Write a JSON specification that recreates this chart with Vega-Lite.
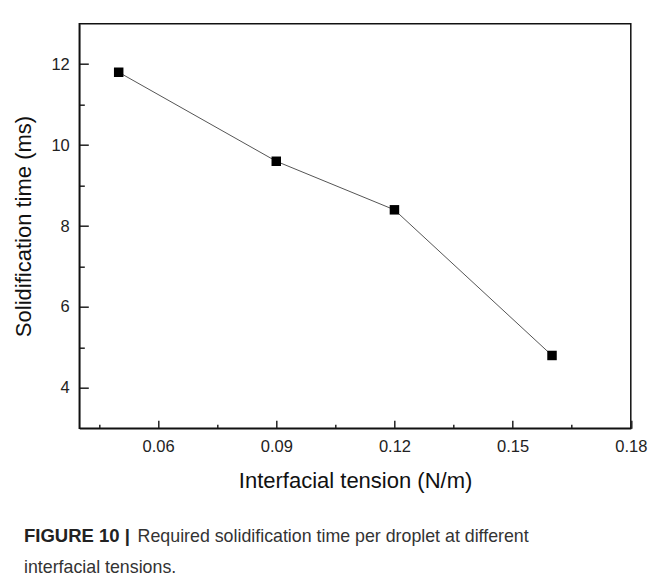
{
  "$schema": "https://vega.github.io/schema/vega-lite/v6.json",
  "width": 551.5,
  "height": 404.6,
  "autosize": {"type": "none"},
  "padding": {"left": 79.3, "top": 23.7, "right": 20.2, "bottom": 152.7},
  "background": "white",
  "config": {
    "view": {"stroke": "#111", "strokeWidth": 1.5},
    "font": "Liberation Sans"
  },
  "title": {
    "text": "FIGURE 10 |",
    "subtitle": ["\u200b\u00a0\u00a0\u00a0\u00a0\u00a0\u00a0\u00a0\u00a0\u00a0\u00a0\u00a0\u00a0\u00a0\u00a0\u00a0\u00a0\u00a0\u00a0\u00a0\u00a0\u00a0\u00a0\u00a0Required solidification time per droplet at different", "interfacial tensions."],
    "orient": "bottom",
    "anchor": "start",
    "frame": "group",
    "dx": -55.3,
    "offset": 36,
    "font": "Liberation Sans",
    "fontSize": 18.5,
    "fontWeight": "bold",
    "color": "#222",
    "subtitleFont": "Liberation Sans",
    "subtitleFontSize": 17.8,
    "subtitleFontWeight": "normal",
    "subtitleColor": "#333",
    "subtitlePadding": -18.2,
    "subtitleLineHeight": 31
  },
  "data": {
    "values": [
      {"tension": 0.05, "time": 11.8},
      {"tension": 0.09, "time": 9.6},
      {"tension": 0.12, "time": 8.4},
      {"tension": 0.16, "time": 4.8}
    ]
  },
  "layer": [
    {
      "mark": {"type": "line", "color": "#555", "strokeWidth": 1},
      "encoding": {
        "x": {
          "field": "tension",
          "type": "quantitative",
          "scale": {"domain": [0.04, 0.18], "nice": false, "zero": false},
          "axis": {
            "title": "Interfacial tension (N/m)",
            "values": [0.045, 0.06, 0.075, 0.09, 0.105, 0.12, 0.135, 0.15, 0.165, 0.18],
            "labelExpr": "round(datum.value*200)%2==1 ? '' : format(datum.value,'.2f')",
            "tickSize": {"condition": {"test": "round(datum.value*200)%2==1", "value": -4}, "value": -8},
            "tickColor": "#222",
            "tickWidth": 1.5,
            "domainColor": "#111",
            "domainWidth": 1.5,
            "grid": false,
            "labelFlush": false,
            "labelOverlap": false,
            "labelFontSize": 16.5,
            "labelColor": "#222",
            "labelPadding": 18.5,
            "titleFontSize": 22,
            "titleFontWeight": "normal",
            "titleColor": "#111",
            "titlePadding": 11
          }
        },
        "y": {
          "field": "time",
          "type": "quantitative",
          "scale": {"domain": [3, 13], "nice": false, "zero": false},
          "axis": {
            "title": "Solidification time (ms)",
            "values": [4, 5, 6, 7, 8, 9, 10, 11, 12],
            "labelExpr": "datum.value % 2 == 1 ? '' : format(datum.value,'d')",
            "tickSize": {"condition": {"test": "datum.value % 2 == 1", "value": -5}, "value": -9},
            "tickColor": "#222",
            "tickWidth": 1.5,
            "domainColor": "#111",
            "domainWidth": 1.5,
            "grid": false,
            "labelFlush": false,
            "labelOverlap": false,
            "labelFontSize": 16.5,
            "labelColor": "#222",
            "labelPadding": 19,
            "titleFontSize": 22,
            "titleFontWeight": "normal",
            "titleColor": "#111",
            "titlePadding": 15
          }
        }
      }
    },
    {
      "mark": {"type": "point", "shape": "square", "filled": true, "color": "#000", "size": 90, "opacity": 1},
      "encoding": {
        "x": {"field": "tension", "type": "quantitative"},
        "y": {"field": "time", "type": "quantitative"}
      }
    }
  ]
}
